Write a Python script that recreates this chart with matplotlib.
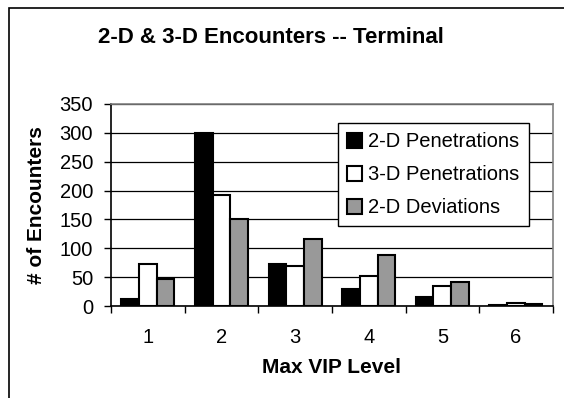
import matplotlib
matplotlib.use("Agg")
import matplotlib.pyplot as plt
from matplotlib.patches import Rectangle
import numpy as np

plt.rcParams['font.family'] = ['Liberation Sans', 'DejaVu Sans']

# data
levels = ["1", "2", "3", "4", "5", "6"]
pen_2d = [12, 300, 72, 29, 16, 2]
pen_3d = [72, 193, 70, 52, 34, 6]
dev_2d = [46, 150, 116, 89, 41, 3]
series_names = ["2-D Penetrations", "3-D Penetrations", "2-D Deviations"]
series_colors = ["black", "white", "#999999"]

fig = plt.figure(figsize=(5.64, 3.98), dpi=100)
ax = fig.add_axes([0.197, 0.231, 0.783, 0.508])

x = np.arange(1, len(levels) + 1)
w = 0.24
for i, (vals, name, col) in enumerate(zip([pen_2d, pen_3d, dev_2d], series_names, series_colors)):
    ax.bar(x + (i - 1) * w, vals, w, color=col, edgecolor="black", linewidth=1.5,
           label=name, zorder=3)

ax.set_xlim(0.5, len(levels) + 0.5)
ax.set_ylim(0, 350)
ax.set_yticks(range(0, 351, 50))
ax.yaxis.grid(True, color="black", linewidth=0.9, zorder=0)

# labels at category centres, tick marks between categories
ax.set_xticks(x)
ax.set_xticklabels(levels)
ax.set_xticks(np.arange(0.5, len(levels) + 1, 1), minor=True)
ax.tick_params(axis="x", which="major", length=0, pad=16, labelsize=14.5)
ax.tick_params(axis="x", which="minor", length=5, width=1, direction="out")
ax.tick_params(axis="y", length=5, width=1, pad=8, labelsize=14.5)

for s in ["top", "right"]:
    ax.spines[s].set_color("#808080")
    ax.spines[s].set_linewidth(1.2)
for s in ["left", "bottom"]:
    ax.spines[s].set_color("black")
    ax.spines[s].set_linewidth(1.2)

ax.set_xlabel("Max VIP Level", fontsize=15, fontweight="bold", labelpad=8)
ax.set_ylabel("# of Encounters", fontsize=15, fontweight="bold", labelpad=10)

leg = ax.legend(loc="upper left", bbox_to_anchor=(0.514, 0.905), fontsize=14.5,
                frameon=True, fancybox=False, edgecolor="black", framealpha=1,
                handlelength=0.75, handleheight=0.75, handletextpad=0.3,
                borderpad=0.45, labelspacing=0.7, borderaxespad=0)
leg.get_frame().set_linewidth(1)

fig.text(0.481, 0.905, "2-D & 3-D Encounters -- Terminal", ha="center", va="center",
         fontsize=16, fontweight="bold")

# chart area border (cropped on the right and bottom)
fig.patches.append(Rectangle((0.016, -0.1), 1.2, 1.08, transform=fig.transFigure,
                             fill=False, edgecolor="black", linewidth=1.2))

fig.savefig("out.png", dpi=100, facecolor="white")
